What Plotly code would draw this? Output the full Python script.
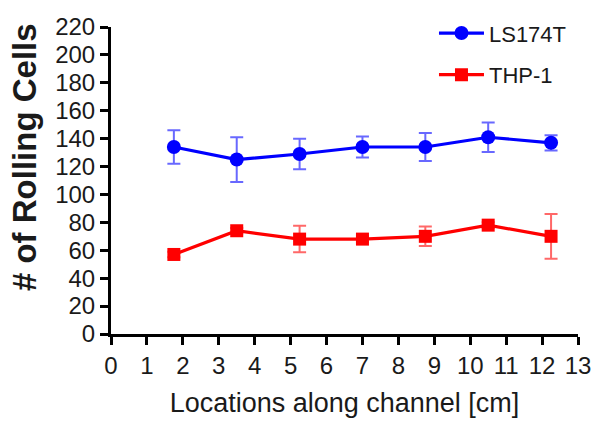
import plotly.graph_objects as go

# Distance of each sampling point along the channel (cm)
locations = [1.75, 3.5, 5.25, 7.0, 8.75, 10.5, 12.25]

# Mean number of rolling cells and standard deviation per location
ls174t_mean = [134, 125, 129, 134, 134, 141, 137]
ls174t_err = [12, 16, 11, 7.5, 10, 10.5, 5.5]

thp1_mean = [57, 74, 68, 68, 70, 78, 70]
thp1_err = [2, 2, 9.5, 2, 7, 2, 16]

x_ticks = list(range(0, 14))
y_ticks = list(range(0, 221, 20))

font_family = "Liberation Sans, Arial, sans-serif"
text_color = "#1a1a1a"

fig = go.Figure()

fig.add_trace(go.Scatter(
    x=locations, y=ls174t_mean, name="LS174T", legendgroup="a",
    mode="lines+markers",
    line=dict(color="#0000ff", width=3.2),
    marker=dict(symbol="circle", size=14, color="#0000ff"),
    error_y=dict(type="data", array=ls174t_err, visible=True,
                 color="rgba(40,40,255,0.7)", thickness=2, width=6.5),
))

fig.add_trace(go.Scatter(
    x=locations, y=thp1_mean, name="THP-1", legendgroup="b",
    mode="lines+markers",
    line=dict(color="#ff0000", width=3.2),
    marker=dict(symbol="square", size=13, color="#ff0000"),
    error_y=dict(type="data", array=thp1_err, visible=True,
                 color="rgba(255,40,40,0.7)", thickness=2, width=6.5),
))

axis_common = dict(
    showgrid=False, zeroline=False, automargin=False,
    showline=True, linecolor="black", linewidth=3,
    ticks="outside", ticklen=8, tickwidth=3, tickcolor="black",
    tickfont=dict(size=24, family=font_family, color=text_color),
)

fig.update_layout(
    width=597, height=422,
    margin=dict(l=111, r=19, t=24, b=88),
    paper_bgcolor="white", plot_bgcolor="white",
    font=dict(family=font_family, color=text_color, size=22),
    showlegend=True,
    legend=dict(
        x=0.6916, y=1.048, xanchor="left", yanchor="top",
        font=dict(size=22, family=font_family, color=text_color),
        itemwidth=45, tracegroupgap=10, bgcolor="rgba(0,0,0,0)",
    ),
    xaxis=dict(
        range=[0, 13], tickvals=x_ticks, ticktext=[str(v) for v in x_ticks],
        title=dict(text="Locations along channel [cm]",
                   font=dict(size=27, family=font_family, color=text_color),
                   standoff=16),
        **axis_common,
    ),
    yaxis=dict(
        range=[0, 220], tickvals=y_ticks, ticktext=[str(v) for v in y_ticks],
        ticklabelstandoff=0,
        **axis_common,
    ),
    annotations=[dict(
        text="<b># of Rolling Cells</b>", textangle=-90,
        xref="paper", yref="paper", x=-0.185, y=0.575,
        xanchor="center", yanchor="middle", showarrow=False,
        font=dict(size=33, family=font_family, color=text_color),
    )],
)

fig.write_html("out.html")
